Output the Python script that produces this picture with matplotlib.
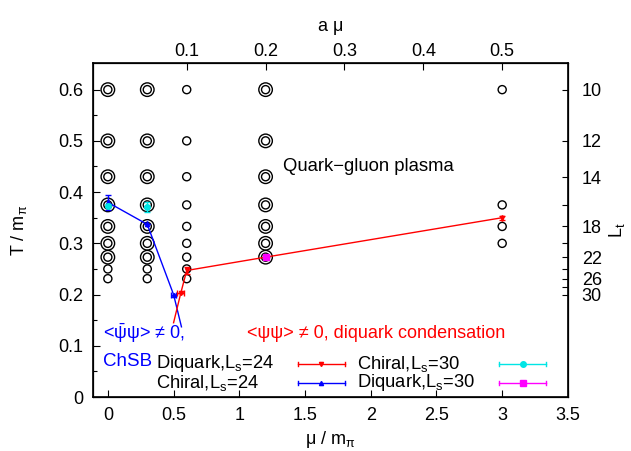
import numpy as np
import matplotlib
matplotlib.use("Agg")
import matplotlib.pyplot as plt

plt.rcParams["font.family"] = ["Liberation Sans", "DejaVu Sans"]
plt.rcParams["mathtext.fontset"] = "custom"
plt.rcParams["mathtext.rm"] = "Liberation Sans"
plt.rcParams["mathtext.it"] = "Liberation Sans"
plt.rcParams["mathtext.sf"] = "Liberation Sans"

# simulation points (mu/m_pi, T/m_pi): double rings = both volumes, single = one
dbl_mu = [0.0] * 7 + [0.3] * 7 + [1.2] * 7
dbl_T = [0.6, 0.5, 0.43, 0.375, 0.333, 0.3, 0.273] * 3
sgl_mu = [0.0, 0.0, 0.3, 0.3] + [0.6] * 9 + [3.0] * 4
sgl_T = [0.25, 0.231, 0.25, 0.231,
         0.6, 0.5, 0.43, 0.375, 0.333, 0.3, 0.273, 0.25, 0.231,
         0.6, 0.375, 0.333, 0.3]

# transition lines
chi24_mu = [0.0, 0.3, 0.5, 0.56]
chi24_T = [0.38, 0.337, 0.2, 0.137]
chi24_terr = [0.014, 0.0, 0.0, 0.0]
chi24_merr = [0.0, 0.0, 0.02, 0.0]

dq24_mu = [0.5, 0.555, 0.6, 1.2, 3.0]
dq24_T = [0.145, 0.203, 0.247, 0.273, 0.35]
dq24_terr = [0.0, 0.0, 0.007, 0.0, 0.004]
dq24_merr = [0.0, 0.027, 0.0, 0.0, 0.0]

chi30_mu = [0.0, 0.3]
chi30_T = [0.373, 0.371]
chi30_terr = [0.003, 0.009]

dq30_mu = [1.2]
dq30_T = [0.273]

# secondary scales
amu_ticks = [0.1, 0.2, 0.3, 0.4, 0.5]
Lt_all = [10, 12, 14, 16, 18, 20, 22, 24, 26, 28, 30]
Lt_labeled = [10, 12, 14, 18, 22, 26, 30]
a_mpi = 1.0 / 6.0

FS = 13

fig = plt.figure(figsize=(6.31, 4.51), dpi=100)
ax = fig.add_axes([0.148, 0.1197, 0.752, 0.7406])

ax.scatter(dbl_mu, dbl_T, s=95, facecolors="none", edgecolors="black", lw=1.0, zorder=2)
ax.scatter(dbl_mu, dbl_T, s=34, facecolors="none", edgecolors="black", lw=1.0, zorder=2)
ax.scatter(sgl_mu, sgl_T, s=34, facecolors="none", edgecolors="black", lw=1.0, zorder=2)

ax.plot(chi24_mu, chi24_T, color="#0000ff", lw=1.0, zorder=3)
ax.errorbar(chi24_mu[:3], chi24_T[:3], yerr=chi24_terr[:3], xerr=chi24_merr[:3],
            fmt="^", ms=3, color="#0000ff", elinewidth=1.0, capsize=2, zorder=4)
ax.plot(dq24_mu, dq24_T, color="#ff0000", lw=1.0, zorder=3)
ax.errorbar(dq24_mu[1:], dq24_T[1:], yerr=dq24_terr[1:], xerr=dq24_merr[1:],
            fmt="v", ms=3, color="#ff0000", elinewidth=1.0, capsize=2, zorder=4)
ax.errorbar(chi30_mu, chi30_T, yerr=chi30_terr, fmt="o", ms=4, color="#00e5e5",
            elinewidth=1.0, capsize=2, zorder=5)
ax.plot(dq30_mu, dq30_T, "s", ms=5, color="#ff00ff", zorder=5)

ax.set_xlim(-0.11, 3.5)
ax.set_ylim(0, 0.652)
ax.set_xticks([0, 0.5, 1, 1.5, 2, 2.5, 3, 3.5])
ax.set_xticklabels(["0", "0.5", "1", "1.5", "2", "2.5", "3", "3.5"])
ax.set_yticks([0, 0.1, 0.2, 0.3, 0.4, 0.5, 0.6])
ax.set_yticklabels(["0", "0.1", "0.2", "0.3", "0.4", "0.5", "0.6"])
ax.set_yticks(np.arange(0.05, 0.65, 0.1), minor=True)
ax.tick_params(direction="in", labelsize=FS, length=5, width=0.8, pad=7,
               top=False, right=False)
ax.tick_params(which="minor", direction="in", length=3, width=0.8, right=False)
ax.set_xlabel(r"$\mathrm{\mu}$ / m$_\mathrm{\pi}$", fontsize=FS, labelpad=4)
ax.set_ylabel(r"T / m$_\mathrm{\pi}$", fontsize=FS, labelpad=21)
for sp in ax.spines.values():
    sp.set_linewidth(1.2)

axt = ax.twiny()
axt.set_xlim(ax.get_xlim())
axt.set_xticks([v / a_mpi for v in amu_ticks])
axt.set_xticklabels([f"{v:.1f}" for v in amu_ticks])
axt.tick_params(direction="in", labelsize=FS, length=5, width=0.8, pad=2)
axt.set_xlabel("a μ", fontsize=FS, labelpad=9)

axr = ax.twinx()
axr.set_ylim(ax.get_ylim())
axr.set_yticks([1.0 / (L * a_mpi) for L in Lt_all])
axr.set_yticklabels([str(L) if L in Lt_labeled else "" for L in Lt_all])
axr.tick_params(direction="in", labelsize=FS, length=4, width=0.8, pad=10)
axr.set_ylabel(r"L$_\mathrm{t}$", fontsize=FS, labelpad=4)

# region labels
ax.text(1.335, 0.449, "Quark\u2212gluon plasma", fontsize=13.3, va="center")
ax.text(0.02, 0.19, r"<$\bar{\mathrm{\psi}}\mathrm{\psi}$> ≠ 0,", transform=ax.transAxes,
        fontsize=13, color="#0000ff", va="center")
ax.text(0.02, 0.105, "ChSB", transform=ax.transAxes, fontsize=13.5,
        color="#0000ff", va="center")
ax.text(0.323, 0.19, "<ψψ> ≠ 0, diquark condensation", transform=ax.transAxes,
        fontsize=13, color="#ff0000", va="center")

# key, gnuplot style: text first, sample after
key = [("Diquark,L$_\\mathrm{s}$=24", "#ff0000", "v", 3, 0.132, 0.431, 0.099),
       ("Chiral,L$_\\mathrm{s}$=24", "#0000ff", "^", 3, 0.132, 0.431, 0.042),
       ("Chiral,L$_\\mathrm{s}$=30", "#00e5e5", "o", 4, 0.555, 0.855, 0.099),
       ("Diquark,L$_\\mathrm{s}$=30", "#ff00ff", "s", 5, 0.555, 0.855, 0.042)]
for label, col, mk, ms, xt, xs, yk in key:
    ax.text(xt, yk, label, transform=ax.transAxes, fontsize=13.2, va="center")
    ax.plot([xs, xs + 0.099], [yk, yk], color=col, lw=1.0, transform=ax.transAxes)
    for xe in (xs, xs + 0.099):
        ax.plot([xe, xe], [yk - 0.006, yk + 0.006], color=col, lw=1.0,
                transform=ax.transAxes)
    ax.plot(xs + 0.0495, yk, mk, ms=ms, color=col, transform=ax.transAxes)

fig.savefig("out.png", dpi=100, facecolor="white")
